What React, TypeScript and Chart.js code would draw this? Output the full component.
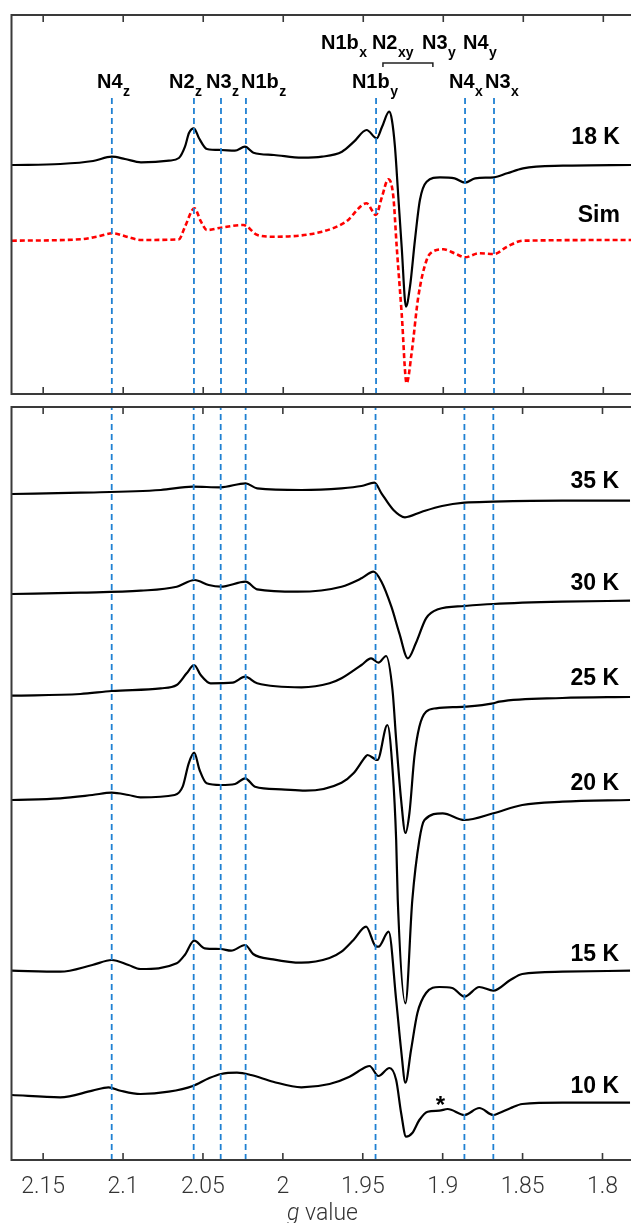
import React, { useEffect, useRef } from 'react';
import { Chart, registerables } from 'chart.js';

Chart.register(...registerables);

// ---------- axis ----------
const G_TICKS = [2.15, 2.1, 2.05, 2, 1.95, 1.9, 1.85, 1.8];
const G_MIN = 1.7827;
const G_MAX = 2.1698;

// g values of the dashed marker lines (N4z, N2z, N3z, N1bz, N1by, N4x, N3x)
const LINE_G = [2.1071, 2.0558, 2.0389, 2.0233, 1.942, 1.8864, 1.8683];

// ---------- spectra (g value, intensity in a.u.) ----------
const G_18K = [2.1696, 2.1393, 2.1188, 2.1071, 2.0989, 2.0889, 2.0714, 2.0652, 2.0614, 2.0589, 2.0558, 2.0527, 2.0477, 2.0389, 2.0302, 2.0239, 2.0186, 2.0058, 1.9883, 1.9758, 1.9633, 1.9558, 1.9479, 1.9416, 1.9383, 1.9338, 1.9321, 1.9302, 1.9281, 1.926, 1.9233, 1.9208, 1.9177, 1.9146, 1.9104, 1.9021, 1.8929, 1.8864, 1.8801, 1.8683, 1.8601, 1.8502, 1.8252, 1.7827];
const I_18K = [0, 1, 4, 8.3, 6, 2.7, 4.3, 7, 18.3, 32, 36.7, 27, 16, 15, 14.3, 18.3, 12.3, 10, 7.3, 8.3, 13.3, 23.3, 35, 26.7, 38, 53.3, 45, 18.3, -31.7, -81.7, -141.7, -121.7, -75, -35, -16.7, -12.3, -13.3, -17.7, -13.3, -12.3, -8.3, -3.3, -0.7, 0];

const G_SIM = [2.1696, 2.1267, 2.1167, 2.1066, 2.0966, 2.0889, 2.0652, 2.0614, 2.0555, 2.0514, 2.0477, 2.0389, 2.0249, 2.0161, 2.0061, 1.9758, 1.9608, 1.9479, 1.9421, 1.9383, 1.9344, 1.9312, 1.9291, 1.926, 1.9229, 1.9198, 1.9156, 1.9104, 1.9067, 1.9, 1.8929, 1.8864, 1.8777, 1.8683, 1.8601, 1.8502, 1.7827];
const I_SIM = [-0.7, 0.7, 3.3, 6.7, 2.7, 0, 0.7, 13.3, 31.7, 18.3, 10, 12.3, 15, 5, 3.3, 8.3, 18.3, 36.7, 25, 43.3, 60.7, 43.3, -6.7, -73.3, -143.3, -113.3, -56.7, -20, -11.7, -9.3, -13.3, -17.3, -13.3, -14, -6.7, -0.7, 0];

const G_35K = [2.1696, 2.1267, 2.0764, 2.0564, 2.0389, 2.0233, 2.0161, 1.9883, 1.9633, 1.9508, 1.9427, 1.9383, 1.9308, 1.9236, 1.913, 1.9004, 1.8864, 1.8683, 1.8252, 1.7827];
const I_35K = [0, 1.3, 4, 7.3, 6.7, 10.7, 5.7, 4, 5.7, 8, 11.3, 0.7, -16, -23.3, -17.7, -12, -8.7, -7.7, -6.7, -6.7];

const G_30K = [2.1696, 2.1267, 2.0889, 2.0664, 2.0552, 2.0464, 2.0389, 2.0233, 2.0161, 1.9908, 1.9633, 1.9508, 1.9433, 1.9383, 1.9321, 1.9271, 1.9218, 1.9168, 1.9104, 1.9029, 1.8864, 1.8683, 1.8252, 1.7827];
const I_30K = [0, 1.3, 3.3, 7.3, 14, 9, 7.3, 12.3, 4.7, 2.3, 7.3, 15.7, 22.3, 12.3, -12.7, -39.3, -64.3, -49.3, -24.3, -15.3, -12, -10, -7.7, -6.7];

const G_25K = [2.1696, 2.1267, 2.1071, 2.0764, 2.0664, 2.0602, 2.0555, 2.0514, 2.0452, 2.0314, 2.0236, 2.0161, 1.9883, 1.9708, 1.9633, 1.9508, 1.9448, 1.9402, 1.9354, 1.9314, 1.9291, 1.926, 1.9233, 1.9208, 1.9177, 1.9146, 1.9104, 1.9041, 1.8864, 1.8683, 1.8646, 1.8252, 1.7827];
const I_25K = [0.3, 2, 5, 7.7, 11, 22.7, 31, 21, 12.7, 13.3, 19.3, 12.7, 8.7, 12.7, 17.7, 31, 37.7, 33.3, 40, 6, -44, -104, -137, -117, -60.7, -30.7, -15.7, -12.3, -10.7, -7.3, -5.7, -2, -1];

const G_20K = [2.1696, 2.1393, 2.1192, 2.1071, 2.0966, 2.0891, 2.0677, 2.0627, 2.0589, 2.0555, 2.0521, 2.0477, 2.0389, 2.0299, 2.0236, 2.0174, 2.001, 1.9859, 1.9633, 1.9558, 1.9483, 1.9471, 1.9408, 1.9346, 1.9312, 1.9291, 1.9281, 1.9233, 1.919, 1.9146, 1.9114, 1.9, 1.8864, 1.8683, 1.8502, 1.825, 1.7827];
const I_20K = [0, 1.7, 5, 7.3, 5, 2.7, 5, 13.3, 36.7, 47.3, 30, 16.7, 15, 16, 21.7, 13.3, 10.7, 9.3, 17.3, 26.7, 43.3, 45, 40, 75, 26.7, -40, -100, -203.3, -100, -40, -20, -13.3, -20, -13.3, -5, -1.7, 0];

const G_15K = [2.1696, 2.1393, 2.1192, 2.1071, 2.0966, 2.0891, 2.0664, 2.0614, 2.0555, 2.0489, 2.0389, 2.0324, 2.0236, 2.0186, 2.0061, 1.9884, 1.9708, 1.9633, 1.9558, 1.9479, 1.9421, 1.9402, 1.9338, 1.9291, 1.926, 1.9233, 1.9198, 1.9158, 1.9104, 1.9021, 1.894, 1.8864, 1.8771, 1.8683, 1.8577, 1.8502, 1.825, 1.7827];
const I_15K = [0.3, -0.7, 6, 11, 6, 2, 7.7, 16, 30.3, 22.7, 22, 20.3, 26, 17, 11.7, 8.3, 13, 19.3, 31, 44.3, 25, 24.3, 39.3, -29, -79, -111.7, -79, -42, -22, -16, -17, -25.7, -16, -19.7, -9, -3, -0.7, 0.3];

const G_10K = [2.1696, 2.1393, 2.1192, 2.1091, 2.1016, 2.0891, 2.0714, 2.0563, 2.0463, 2.0387, 2.0287, 2.0199, 2.0061, 1.9884, 1.9708, 1.9583, 1.9477, 1.9458, 1.9402, 1.9333, 1.9291, 1.926, 1.9229, 1.919, 1.9146, 1.9094, 1.9021, 1.8969, 1.8864, 1.8771, 1.8683, 1.8646, 1.8577, 1.8502, 1.825, 1.7827];
const I_10K = [0, -2.3, 4.3, 7.7, 4.3, 1, 3.3, 9, 16.7, 21, 22.3, 20, 13.3, 7.7, 11, 18.3, 28.3, 29, 19, 27, 15, -18, -41.7, -38, -25, -16.7, -15.7, -14, -20, -13, -20, -18, -13.3, -9, -7.7, -7.7];

// vertical stacking offsets (a.u.)
const TOP_OFFSETS = { k18: 229, sim: 154 };
const BOTTOM_OFFSETS = { k35: 666, k30: 566, k25: 464, k20: 360, k15: 189, k10: 65 };
const TOP_RANGE = 379;
const BOTTOM_RANGE = 753;

// ---------- annotations ----------
const PEAK_LABELS = [
  { main: 'N1b', sub: 'x', g: 1.9764, v: 345 },
  { main: 'N2', sub: 'xy', g: 1.9446, v: 345 },
  { main: 'N3', sub: 'y', g: 1.9133, v: 345 },
  { main: 'N4', sub: 'y', g: 1.8877, v: 345 },
  { main: 'N4', sub: 'z', g: 2.1164, v: 306 },
  { main: 'N2', sub: 'z', g: 2.0714, v: 306 },
  { main: 'N3', sub: 'z', g: 2.0483, v: 306 },
  { main: 'N1b', sub: 'z', g: 2.0264, v: 306 },
  { main: 'N1b', sub: 'y', g: 1.9571, v: 306 },
  { main: 'N4', sub: 'x', g: 1.8964, v: 306 },
  { main: 'N3', sub: 'x', g: 1.8739, v: 306 },
];
const BRACKET = { g1: 1.9377, g2: 1.9065, v: 331, drop: 4 };
const TOP_TRACE_LABELS = [
  { text: '18 K', v: 249.7 },
  { text: 'Sim', v: 172 },
];
const BOTTOM_TRACE_LABELS = [
  { text: '35 K', v: 672 },
  { text: '30 K', v: 570 },
  { text: '25 K', v: 475 },
  { text: '20 K', v: 370 },
  { text: '15 K', v: 199.5 },
  { text: '10 K', v: 67 },
];
const LABEL_RIGHT_G = 1.7896;
const ASTERISK = { g: 1.9014, v: 47 };
const TOP_LINE_TOP = 299;

const BLUE = '#1f80d2';
const AXIS = '#3a3a3a';
const BOLD = '"Liberation Sans", Arial, Helvetica, sans-serif';
const LIGHT = 'Roboto, "Liberation Sans", sans-serif';

type Pt = { x: number; y: number };
const toPts = (g: number[], inten: number[], off: number): Pt[] =>
  g.map((x, i) => ({ x, y: off + inten[i] }));

const traceDs = (data: Pt[], color = '#000', dash: number[] = [], width = 2.2) => ({
  data,
  borderColor: color,
  borderWidth: width,
  borderDash: dash,
  pointRadius: 0,
  cubicInterpolationMode: 'monotone' as const,
  fill: false,
});

const vlineDs = (g: number, y0: number, y1: number) => ({
  data: [{ x: g, y: y0 }, { x: g, y: y1 }],
  borderColor: BLUE,
  borderWidth: 1.8,
  borderDash: [6, 4],
  pointRadius: 0,
  tension: 0,
  fill: false,
});

type DecorCfg = {
  peakLabels?: typeof PEAK_LABELS;
  bracket?: typeof BRACKET;
  traceLabels: { text: string; v: number }[];
  asterisk?: typeof ASTERISK;
  xTitle?: boolean;
};

const makeDecor = (cfg: DecorCfg) => ({
  id: 'decor',
  afterDraw(chart: any) {
    const { ctx, chartArea: a, scales } = chart;
    const xs = scales.x;
    const ys = scales.y;
    ctx.save();
    // box (left, top, bottom)
    ctx.strokeStyle = AXIS;
    ctx.lineWidth = 2;
    ctx.lineJoin = 'miter';
    ctx.beginPath();
    ctx.moveTo(a.right + 4, a.top);
    ctx.lineTo(a.left, a.top);
    ctx.lineTo(a.left, a.bottom);
    ctx.lineTo(a.right + 4, a.bottom);
    ctx.stroke();
    // inward ticks
    ctx.lineWidth = 1.6;
    ctx.beginPath();
    for (const t of G_TICKS) {
      const px = xs.getPixelForValue(t);
      ctx.moveTo(px, a.top);
      ctx.lineTo(px, a.top + 7);
      ctx.moveTo(px, a.bottom);
      ctx.lineTo(px, a.bottom - 7);
    }
    ctx.stroke();

    ctx.fillStyle = '#000';
    // peak labels with subscripts
    if (cfg.peakLabels) {
      ctx.textBaseline = 'alphabetic';
      ctx.textAlign = 'left';
      for (const l of cfg.peakLabels) {
        const x = xs.getPixelForValue(l.g);
        const y = ys.getPixelForValue(l.v);
        ctx.font = `bold 20px ${BOLD}`;
        ctx.fillText(l.main, x, y);
        const w = ctx.measureText(l.main).width;
        ctx.font = `bold 14px ${BOLD}`;
        ctx.fillText(l.sub, x + w + 0.5, y + 8);
      }
    }
    if (cfg.bracket) {
      const b = cfg.bracket;
      const x1 = xs.getPixelForValue(b.g1);
      const x2 = xs.getPixelForValue(b.g2);
      const y = ys.getPixelForValue(b.v);
      const yd = ys.getPixelForValue(b.v - b.drop);
      ctx.strokeStyle = '#222';
      ctx.lineWidth = 1.5;
      ctx.beginPath();
      ctx.moveTo(x1, yd);
      ctx.lineTo(x1, y);
      ctx.lineTo(x2, y);
      ctx.lineTo(x2, yd);
      ctx.stroke();
    }
    // trace labels
    ctx.font = `bold 23px ${BOLD}`;
    ctx.textAlign = 'right';
    ctx.textBaseline = 'alphabetic';
    const xr = xs.getPixelForValue(LABEL_RIGHT_G);
    for (const l of cfg.traceLabels) {
      ctx.fillText(l.text, xr, ys.getPixelForValue(l.v));
    }
    if (cfg.asterisk) {
      ctx.font = `bold 24px ${BOLD}`;
      ctx.textAlign = 'center';
      ctx.fillText('*', xs.getPixelForValue(cfg.asterisk.g), ys.getPixelForValue(cfg.asterisk.v));
    }
    if (cfg.xTitle) {
      const cx = xs.getPixelForValue(1.9752);
      const y = a.bottom + 60;
      ctx.fillStyle = '#333';
      ctx.textAlign = 'left';
      ctx.font = `italic 300 23px ${LIGHT}`;
      const wg = ctx.measureText('g').width;
      ctx.font = `300 23px ${LIGHT}`;
      const wv = ctx.measureText(' value').width;
      const x0 = cx - (wg + wv) / 2;
      ctx.font = `italic 300 23px ${LIGHT}`;
      ctx.fillText('g', x0, y);
      ctx.font = `300 23px ${LIGHT}`;
      ctx.fillText(' value', x0 + wg, y);
    }
    ctx.restore();
  },
});

const fmtTick = (v: any) => String(Number(Number(v).toFixed(2)));

const baseOptions = (yMax: number, showX: boolean, pad: any) => ({
  responsive: true,
  maintainAspectRatio: false,
  animation: false as const,
  events: [] as any[],
  layout: { padding: pad },
  plugins: { legend: { display: false }, tooltip: { enabled: false } },
  scales: {
    x: {
      type: 'linear' as const,
      reverse: true,
      min: G_MIN,
      max: G_MAX,
      display: showX,
      afterBuildTicks: (axis: any) => {
        axis.ticks = G_TICKS.map((value) => ({ value }));
      },
      border: { display: false },
      grid: { display: false, drawTicks: false, tickLength: 0 },
      ticks: {
        padding: 13,
        color: '#333',
        autoSkip: false,
        maxRotation: 0,
        font: { family: LIGHT, size: 23, weight: '300' as any },
        callback: fmtTick,
      },
    },
    y: { type: 'linear' as const, display: false, min: 0, max: yMax },
  },
});

function ChartCanvas({ config, style }: { config: () => any; style: React.CSSProperties }) {
  const ref = useRef<HTMLCanvasElement | null>(null);
  useEffect(() => {
    if (!ref.current) return;
    const chart = new Chart(ref.current, config());
    return () => chart.destroy();
  }, []);
  return (
    <div style={{ position: 'absolute', left: 0, ...style }}>
      <canvas ref={ref} />
    </div>
  );
}

const topConfig = () => ({
  type: 'line',
  data: {
    datasets: [
      ...LINE_G.map((g) => vlineDs(g, 0, TOP_LINE_TOP)),
      traceDs(toPts(G_18K, I_18K, TOP_OFFSETS.k18)),
      traceDs(toPts(G_SIM, I_SIM, TOP_OFFSETS.sim), '#ff0000', [5, 3], 2.6),
    ],
  },
  options: baseOptions(TOP_RANGE, false, { left: 11.5, right: 0, top: 15, bottom: 6 }),
  plugins: [makeDecor({ peakLabels: PEAK_LABELS, bracket: BRACKET, traceLabels: TOP_TRACE_LABELS })],
});

const bottomConfig = () => ({
  type: 'line',
  data: {
    datasets: [
      ...LINE_G.map((g) => vlineDs(g, 0, BOTTOM_RANGE)),
      traceDs(toPts(G_35K, I_35K, BOTTOM_OFFSETS.k35)),
      traceDs(toPts(G_30K, I_30K, BOTTOM_OFFSETS.k30)),
      traceDs(toPts(G_25K, I_25K, BOTTOM_OFFSETS.k25)),
      traceDs(toPts(G_20K, I_20K, BOTTOM_OFFSETS.k20)),
      traceDs(toPts(G_15K, I_15K, BOTTOM_OFFSETS.k15)),
      traceDs(toPts(G_10K, I_10K, BOTTOM_OFFSETS.k10)),
    ],
  },
  // x axis height = 2 * tick padding (26) + label line height (27.6)
  options: baseOptions(BOTTOM_RANGE, true, { left: 11.5, right: 0, top: 7, bottom: 9.4 }),
  plugins: [makeDecor({ traceLabels: BOTTOM_TRACE_LABELS, asterisk: ASTERISK, xTitle: true })],
});

export default function App() {
  return (
    <div style={{ position: 'absolute', left: 0, top: 0, width: 631, height: 1223, background: '#fff', overflow: 'hidden' }}>
      <ChartCanvas config={topConfig} style={{ top: 0, width: 631, height: 400 }} />
      <ChartCanvas config={bottomConfig} style={{ top: 400, width: 631, height: 823 }} />
    </div>
  );
}
